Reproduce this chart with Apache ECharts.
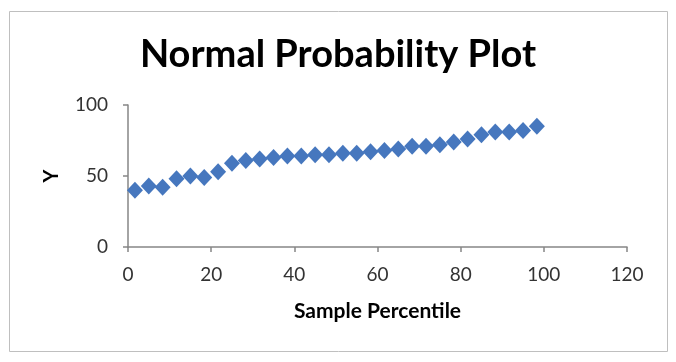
<!DOCTYPE html>
<html>
<head>
<meta charset="utf-8">
<script src="https://cdn.jsdelivr.net/npm/echarts@6/dist/echarts.min.js"></script>
<style>
  html, body { margin: 0; padding: 0; background: #fff; }
  #chart { width: 676px; height: 362px; }
</style>
</head>
<body>
<div id="chart"></div>
<script>
// sample percentiles (x) and sorted Y values
var percentiles = [1.67, 5, 8.33, 11.67, 15, 18.33, 21.67, 25, 28.33, 31.67,
  35, 38.33, 41.67, 45, 48.33, 51.67, 55, 58.33, 61.67, 65,
  68.33, 71.67, 75, 78.33, 81.67, 85, 88.33, 91.67, 95, 98.33]
var yValues = [40, 43, 42, 48, 50, 49, 53, 59, 61, 62,
  63, 64, 64, 65, 65, 66, 66, 67, 68, 69,
  71, 71, 72, 74, 76, 79, 81, 81, 82, 85]

var points = percentiles.map(function (p, i) { return [p, yValues[i]] })

var chart = echarts.init(document.getElementById('chart'))
var axisFont = { fontFamily: 'Lato', fontSize: 19, color: '#333' }
var nameFont = { fontFamily: 'Lato', fontWeight: 'bold', fontSize: 20, color: '#000' }

chart.setOption({
  animation: false,
  title: {
    text: 'Normal Probability Plot',
    left: 'center',
    top: 31,
    textStyle: { fontFamily: 'Lato', fontWeight: 'bold', fontSize: 38, color: '#000' }
  },
  graphic: [{
    type: 'rect',
    shape: { x: 9.5, y: 11.5, width: 658, height: 340 },
    style: { fill: 'none', stroke: '#bfbfbf', lineWidth: 1 }
  }],
  grid: { left: 128, right: 49, top: 105, bottom: 115 },
  xAxis: {
    type: 'value',
    min: 0, max: 120, interval: 20,
    name: 'Sample Percentile',
    nameLocation: 'middle',
    nameGap: 54,
    nameTextStyle: Object.assign({}, nameFont, { fontSize: 21 }),
    axisLine: { show: true, lineStyle: { color: '#868686', width: 1.5 } },
    axisTick: { show: true, length: 5, lineStyle: { color: '#868686', width: 1.5 } },
    axisLabel: Object.assign({ margin: 18 }, axisFont),
    splitLine: { show: false }
  },
  yAxis: {
    type: 'value',
    min: 0, max: 100, interval: 50,
    name: 'Y',
    nameLocation: 'middle',
    nameGap: 66,
    nameTextStyle: nameFont,
    axisLine: { show: true, lineStyle: { color: '#868686', width: 1.5 } },
    axisTick: { show: true, length: 5, lineStyle: { color: '#868686', width: 1.5 } },
    axisLabel: Object.assign({ margin: 20 }, axisFont),
    splitLine: { show: false }
  },
  series: [{
    type: 'scatter',
    symbol: 'diamond',
    symbolSize: [16, 17],
    itemStyle: { color: '#4677BE', opacity: 1 },
    data: points
  }]
})
</script>
</body>
</html>
